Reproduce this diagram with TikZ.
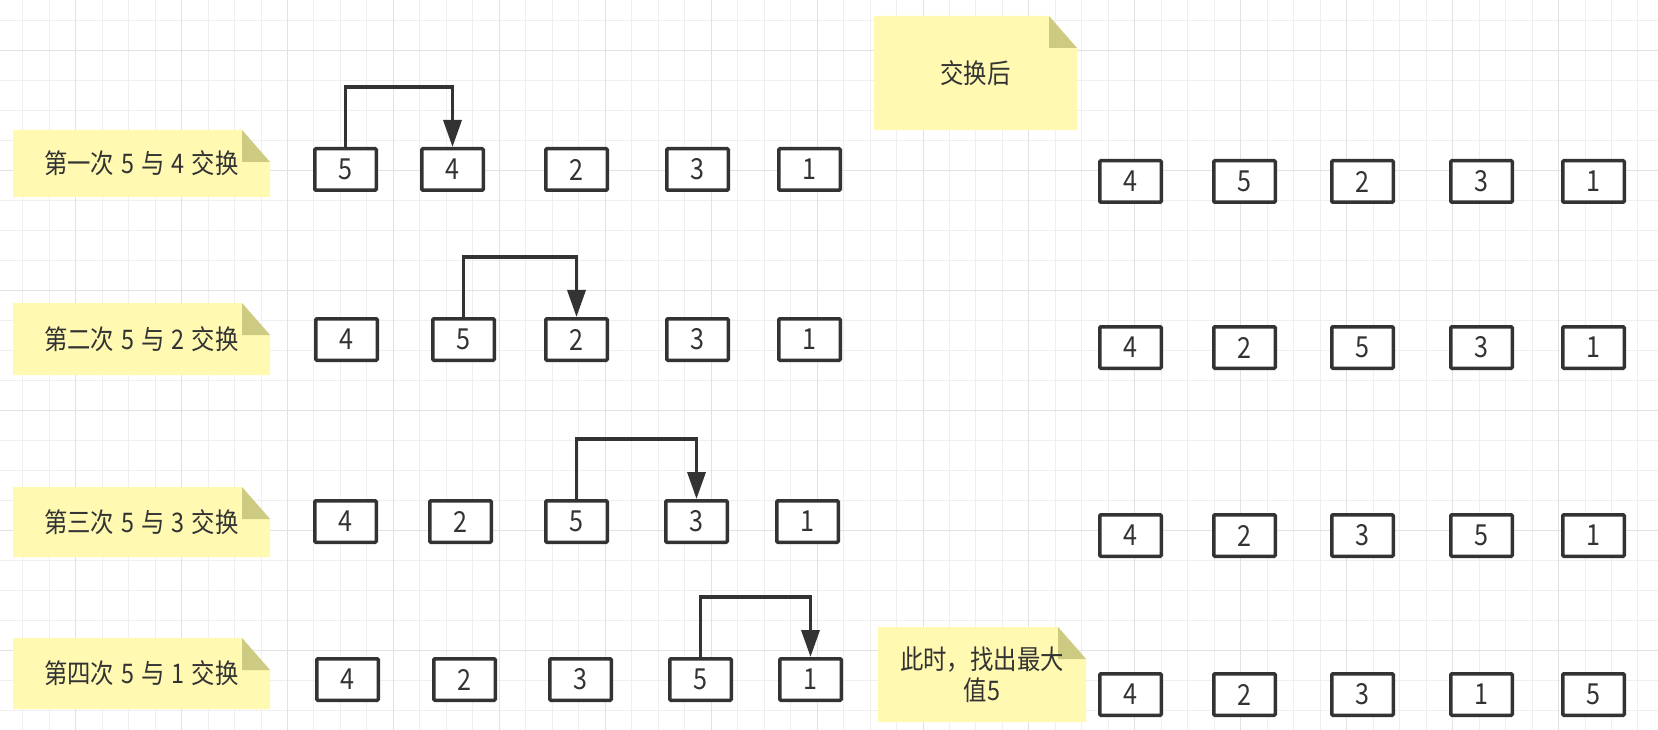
\documentclass[tikz,border=0pt]{standalone}
\usepackage{fontspec}
\usetikzlibrary{arrows.meta}
\newfontfamily\cjk[FakeStretch=0.866,WordSpace=1.35]{Noto Sans CJK SC}
\definecolor{ink}{HTML}{333333}
\definecolor{notebg}{HTML}{FFF9B2}
\definecolor{notefoldbg}{HTML}{CDCA82}
\definecolor{gridminor}{HTML}{EFEFEF}
\definecolor{gridmajor}{HTML}{E2E2E2}

\tikzset{
  cell/.style={draw=ink, line width=3.5pt, rounded corners=1pt, fill=white,
    minimum width=61.5pt, minimum height=41.5pt, inner sep=0pt,
    text=ink, font=\cjk\fontsize{29}{30}\selectfont},
  notetext/.style={text=ink, align=center, inner sep=0pt,
    font=\cjk\fontsize{27}{31}\selectfont},
  swaparrow/.style={draw=ink, line width=3.5pt, -{Triangle[width=18pt,length=27pt]}},
}

% #1 name, (#2,#3) top left, (#4,#5) bottom right, #6 text
\newcommand{\stickynote}[6]{%
  \fill[notebg] (#2,#3) -- (#4-28,#3) -- (#4,#3+32) -- (#4,#5) -- (#2,#5) -- cycle;
  \fill[notefoldbg] (#4-28,#3) -- (#4-28,#3+32) -- (#4,#3+32) -- cycle;
  \node[notetext] (#1) at ({(#2+#4)/2},{(#3+#5)/2}) {#6};
}

\begin{document}
\begin{tikzpicture}[x=1pt,y=-1pt]
\useasboundingbox (0,0) rectangle (1658,730);
\fill[white] (0,0) rectangle (1658,730);

% grid
\foreach \i in {0,...,61}
   \draw[gridminor, line width=1pt] ({22.7+26.48*\i},0) -- ({22.7+26.48*\i},730);
\foreach \j in {0,...,23}
   \draw[gridminor, line width=1pt] (0,{20.7+30*\j}) -- (1658,{20.7+30*\j});
\foreach \i in {2,6,...,58}
   \draw[gridmajor, line width=1pt] ({22.7+26.48*\i},0) -- ({22.7+26.48*\i},730);
\foreach \j in {1,5,...,21}
   \draw[gridmajor, line width=1pt] (0,{20.7+30*\j}) -- (1658,{20.7+30*\j});

% notes
\stickynote{n1}{13}{130}{270}{197}{第一次 5 与 4 交换}
\stickynote{n2}{13}{303}{270}{375}{第二次 5 与 2 交换}
\stickynote{n3}{13}{487}{270}{557}{第三次 5 与 3 交换}
\stickynote{n4}{13}{638}{270}{709}{第四次 5 与 1 交换}
\stickynote{after}{874}{16}{1077}{130}{交换后}
\stickynote{maxnote}{878}{627}{1086}{722}{此时，找出最大\\值5}

% steps
\foreach \x/\v [count=\k] in {345.5/5,452.5/4,576.5/2,697.5/3,809.5/1}
   \node[cell] (s1\k) at (\x,169.5) {\v};
\foreach \x/\v [count=\k] in {346.5/4,463.5/5,576.5/2,697.5/3,809.5/1}
   \node[cell] (s2\k) at (\x,339.5) {\v};
\foreach \x/\v [count=\k] in {345.5/4,460.5/2,576.5/5,696.5/3,807.5/1}
   \node[cell] (s3\k) at (\x,521.5) {\v};
\foreach \x/\v [count=\k] in {347.5/4,464.5/2,580.5/3,700.5/5,810.5/1}
   \node[cell] (s4\k) at (\x,679.5) {\v};

% results
\foreach \x/\v [count=\k] in {1130.5/4,1244.5/5,1362.5/2,1481.5/3,1593.5/1}
   \node[cell] (r1\k) at (\x,181.5) {\v};
\foreach \x/\v [count=\k] in {1130.5/4,1244.5/2,1362.5/5,1481.5/3,1593.5/1}
   \node[cell] (r2\k) at (\x,347.5) {\v};
\foreach \x/\v [count=\k] in {1130.5/4,1244.5/2,1362.5/3,1481.5/5,1593.5/1}
   \node[cell] (r3\k) at (\x,535.5) {\v};
\foreach \x/\v [count=\k] in {1130.5/4,1244.5/2,1362.5/3,1481.5/1,1593.5/5}
   \node[cell] (r4\k) at (\x,694.5) {\v};

% swaps
\draw[swaparrow] (s11.north) -- ++(0,-60) -| (s12.north);
\draw[swaparrow] (s22.north) -- ++(0,-60) -| (s23.north);
\draw[swaparrow] (s33.north) -- ++(0,-60) -| (s34.north);
\draw[swaparrow] (s44.north) -- ++(0,-60) -| (s45.north);
\end{tikzpicture}
\end{document}
